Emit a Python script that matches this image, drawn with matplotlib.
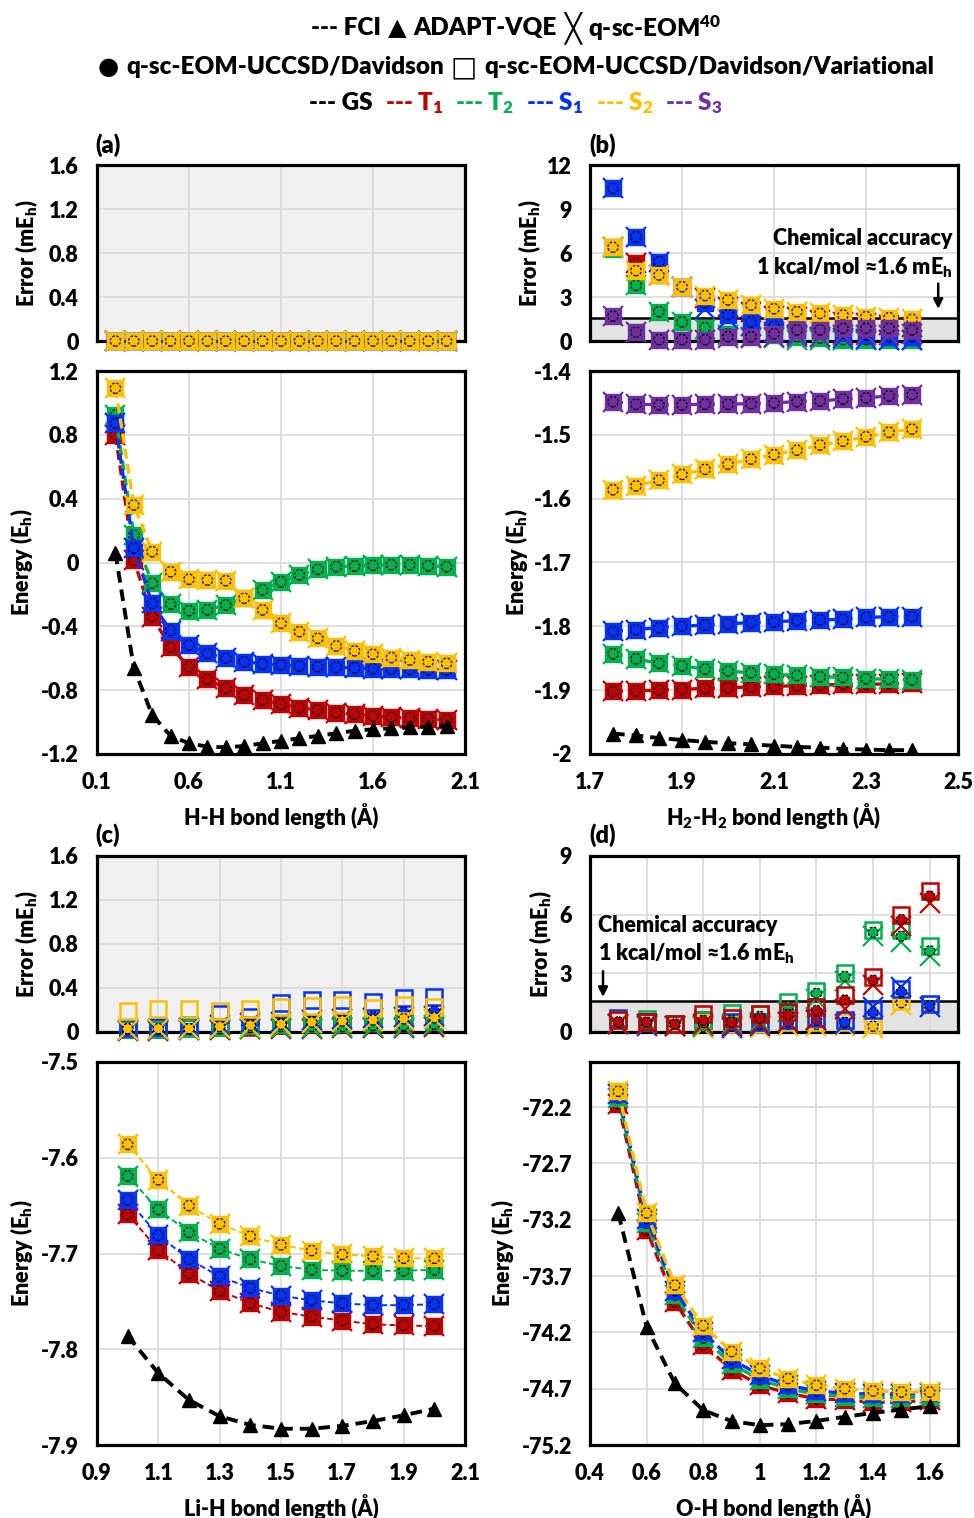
import numpy as np
import matplotlib
matplotlib.use('Agg')
import matplotlib.pyplot as plt

WEIGHT = 'heavy'
plt.rcParams['font.family'] = ['Lato', 'DejaVu Sans']
plt.rcParams['font.weight'] = WEIGHT
plt.rcParams['mathtext.fontset'] = 'custom'
plt.rcParams['mathtext.rm'] = 'Lato:heavy'
plt.rcParams['mathtext.it'] = 'Lato:heavy'
plt.rcParams['mathtext.bf'] = 'Lato:heavy'
plt.rcParams['axes.unicode_minus'] = False

COL = {'GS': 'black', 'T1': '#C00000', 'T2': '#00B050', 'S1': '#0433FF',
       'S2': '#FFC000', 'S3': '#7030A0'}

# ---------------- Panel (a): H2 ----------------
a_x = [0.2, 0.3, 0.4, 0.5, 0.6, 0.7, 0.8, 0.9, 1.0, 1.1, 1.2, 1.3, 1.4, 1.5, 1.6, 1.7, 1.8, 1.9, 2.0]
a_GS = [0.062, -0.660, -0.955, -1.087, -1.133, -1.154, -1.158, -1.150, -1.133, -1.118,
        -1.101, -1.087, -1.070, -1.054, -1.045, -1.039, -1.033, -1.029, -1.024]
a_T1 = [0.799, 0.016, -0.339, -0.532, -0.653, -0.732, -0.788, -0.830, -0.861, -0.888,
        -0.909, -0.924, -0.941, -0.951, -0.962, -0.970, -0.976, -0.980, -0.987]
a_T2 = [0.924, 0.172, -0.130, -0.260, -0.302, -0.297, -0.266, -0.224, -0.172, -0.120,
        -0.078, -0.043, -0.026, -0.022, -0.018, -0.014, -0.014, -0.020, -0.026]
a_S1 = [0.872, 0.089, -0.256, -0.427, -0.517, -0.569, -0.600, -0.621, -0.636, -0.642,
        -0.648, -0.653, -0.657, -0.661, -0.665, -0.667, -0.670, -0.672, -0.674]
a_S2 = [1.092, 0.360, 0.068, -0.058, -0.105, -0.110, -0.114, -0.224, -0.297, -0.381,
        -0.433, -0.475, -0.523, -0.554, -0.575, -0.596, -0.611, -0.621, -0.632]
a_err = [0.0, 0.0, 0.0, 0.0, 0.0, 0.0, 0.0, 0.0, 0.0, 0.0, 0.0, 0.0, 0.0, 0.0, 0.0, 0.0, 0.0, 0.0, 0.0]

# ---------------- Panel (b): H4 ----------------
b_x = [1.75, 1.80, 1.85, 1.90, 1.95, 2.00, 2.05, 2.10, 2.15, 2.20, 2.25, 2.30, 2.35, 2.40]
b_GS = [-1.968, -1.971, -1.975, -1.978, -1.981, -1.983, -1.985, -1.987, -1.989, -1.990,
        -1.992, -1.993, -1.994, -1.994]
b_T1 = [-1.902, -1.901, -1.900, -1.899, -1.897, -1.896, -1.895, -1.894, -1.893, -1.892,
        -1.891, -1.891, -1.890, -1.889]
b_T2 = [-1.843, -1.851, -1.858, -1.862, -1.867, -1.870, -1.873, -1.875, -1.877, -1.879,
        -1.880, -1.882, -1.883, -1.884]
b_S1 = [-1.808, -1.805, -1.802, -1.800, -1.798, -1.796, -1.794, -1.793, -1.791, -1.790,
        -1.789, -1.786, -1.785, -1.785]
b_S2 = [-1.586, -1.580, -1.571, -1.562, -1.554, -1.546, -1.538, -1.531, -1.524, -1.516,
        -1.510, -1.503, -1.496, -1.491]
b_S3 = [-1.448, -1.452, -1.453, -1.453, -1.452, -1.452, -1.451, -1.450, -1.448, -1.447,
        -1.444, -1.442, -1.439, -1.437]
# errors (mEh): Davidson (circle) / Variational (square) / q-sc-EOM40 (cross)
b_dav_T1 = [6.4, 5.3, 4.5, 3.7, 2.9, 2.3, 2.0, 1.7, 1.66, 1.43, 1.32, 1.21, 1.09, 0.98]
b_dav_T2 = [6.3, 3.8, 2.0, 1.3, 0.9, 0.5, 0.5, 0.4, 0.3, 0.2, 0.1, 0.1, 0.1, 0.05]
b_dav_S1 = [10.4, 7.1, 5.4, 3.7, 2.6, 1.8, 1.3, 1.0, 0.9, 0.75, 0.52, 0.41, 0.3, 0.3]
b_dav_S2 = [6.4, 4.8, 4.5, 3.7, 3.1, 2.8, 2.45, 2.2, 2.0, 1.88, 1.77, 1.66, 1.59, 1.48]
b_dav_S3 = [1.7, 0.6, 0.1, 0.1, 0.1, 0.3, 0.3, 0.5, 0.75, 0.75, 0.86, 0.86, 0.86, 0.75]
b_x40_T1 = [6.4, 5.3, 4.5, 3.7, 2.9, 2.3, 2.0, 1.7, 1.66, 1.43, 1.32, 1.21, 1.09, 0.98]
b_x40_T2 = [6.4, 3.8, 2.0, 1.3, 0.8, 0.4, 0.3, 0.2, 0.1, 0.1, 0.05, 0.05, 0.05, 0.05]
b_x40_S1 = [10.4, 7.1, 5.4, 3.7, 2.2, 1.5, 1.0, 0.6, 0.4, 0.3, 0.2, 0.15, 0.1, 0.1]
b_x40_S2 = [6.4, 4.8, 4.5, 3.7, 3.1, 2.8, 2.45, 2.2, 2.0, 1.88, 1.77, 1.66, 1.59, 1.48]
b_x40_S3 = [1.7, 0.6, 0.1, 0.1, 0.1, 0.2, 0.2, 0.3, 0.3, 0.3, 0.4, 0.4, 0.4, 0.5]

# ---------------- Panel (c): LiH ----------------
c_x = [1.0, 1.1, 1.2, 1.3, 1.4, 1.5, 1.6, 1.7, 1.8, 1.9, 2.0]
c_GS = [-7.786, -7.825, -7.853, -7.870, -7.879, -7.883, -7.883, -7.880, -7.875, -7.869, -7.862]
c_T1 = [-7.659, -7.696, -7.721, -7.739, -7.752, -7.761, -7.766, -7.770, -7.774, -7.775, -7.776]
c_T2 = [-7.619, -7.654, -7.678, -7.695, -7.706, -7.713, -7.717, -7.718, -7.718, -7.718, -7.717]
c_S1 = [-7.644, -7.681, -7.706, -7.724, -7.736, -7.744, -7.749, -7.752, -7.754, -7.754, -7.753]
c_S2 = [-7.586, -7.623, -7.650, -7.669, -7.682, -7.691, -7.697, -7.701, -7.703, -7.705, -7.705]
c_dav_T1 = [0.02, 0.02, 0.02, 0.03, 0.03, 0.03, 0.04, 0.04, 0.05, 0.05, 0.05]
c_dav_T2 = [0.02, 0.02, 0.03, 0.03, 0.04, 0.05, 0.05, 0.05, 0.06, 0.06, 0.07]
c_dav_S1 = [0.03, 0.03, 0.03, 0.06, 0.07, 0.08, 0.10, 0.11, 0.14, 0.18, 0.19]
c_dav_S2 = [0.03, 0.03, 0.03, 0.05, 0.06, 0.07, 0.09, 0.10, 0.11, 0.12, 0.13]
c_var_T1 = [0.03, 0.03, 0.04, 0.05, 0.05, 0.06, 0.07, 0.07, 0.08, 0.08, 0.09]
c_var_T2 = [0.03, 0.03, 0.04, 0.05, 0.06, 0.07, 0.08, 0.08, 0.09, 0.10, 0.10]
c_var_S1 = [0.04, 0.05, 0.06, 0.16, 0.14, 0.26, 0.29, 0.29, 0.27, 0.31, 0.32]
c_var_S2 = [0.19, 0.21, 0.21, 0.19, 0.21, 0.23, 0.24, 0.25, 0.22, 0.25, 0.23]
c_x40_T1 = [0.01, 0.01, 0.02, 0.02, 0.03, 0.03, 0.03, 0.04, 0.04, 0.04, 0.05]
c_x40_T2 = [0.02, 0.02, 0.02, 0.03, 0.03, 0.04, 0.04, 0.05, 0.05, 0.05, 0.06]
c_x40_S1 = [0.02, 0.03, 0.04, 0.06, 0.08, 0.09, 0.11, 0.12, 0.13, 0.14, 0.15]
c_x40_S2 = [0.02, 0.03, 0.03, 0.04, 0.05, 0.06, 0.08, 0.09, 0.10, 0.11, 0.12]

# ---------------- Panel (d): H2O ----------------
d_x = [0.5, 0.6, 0.7, 0.8, 0.9, 1.0, 1.1, 1.2, 1.3, 1.4, 1.5, 1.6]
d_GS = [-73.144, -74.151, -74.654, -74.891, -74.988, -75.024, -75.015, -74.986, -74.950,
        -74.915, -74.885, -74.855]
d_T1 = [-72.17, -73.29, -73.93, -74.31, -74.53, -74.67, -74.74, -74.79, -74.80, -74.82, -74.82, -74.80]
d_T2 = [-72.12, -73.23, -73.87, -74.25, -74.48, -74.62, -74.70, -74.75, -74.77, -74.78, -74.78, -74.77]
d_S1 = [-72.08, -73.19, -73.83, -74.20, -74.44, -74.58, -74.67, -74.72, -74.74, -74.75, -74.75, -74.74]
d_S2 = [-72.06, -73.14, -73.78, -74.14, -74.37, -74.52, -74.61, -74.67, -74.70, -74.72, -74.73, -74.73]
d_dav_T1 = [0.5, 0.5, 0.4, 0.6, 0.5, 0.7, 0.9, 1.1, 1.64, 2.65, 5.75, 6.95]
d_dav_T2 = [0.5, 0.5, 0.4, 0.5, 0.6, 0.8, 1.3, 1.98, 2.85, 5.1, 4.9, 4.15]
d_dav_S1 = [0.5, 0.4, 0.4, 0.4, 0.3, 0.4, 0.5, 0.6, 0.5, 1.0, 2.05, 1.35]
d_dav_S2 = [0.5, 0.4, 0.4, 0.3, 0.3, 0.3, 0.4, 0.4, 0.4, 0.3, 1.5, 1.35]
d_var_T1 = [0.6, 0.5, 0.4, 0.9, 0.7, 0.9, 1.0, 1.3, 1.9, 2.8, 6.0, 7.2]
d_var_T2 = [0.6, 0.65, 0.4, 0.6, 0.95, 0.9, 1.55, 2.1, 3.0, 5.2, 5.2, 4.4]
d_var_S1 = [0.7, 0.5, 0.4, 0.6, 0.5, 0.5, 0.6, 0.7, 0.6, 1.1, 2.2, 1.45]
d_var_S2 = [0.6, 0.5, 0.4, 0.5, 0.4, 0.4, 0.5, 0.5, 0.5, 0.4, 1.6, 1.45]
d_x40_T1 = [0.4, 0.4, 0.3, 0.4, 0.3, 0.4, 0.5, 0.6, 1.2, 2.4, 5.4, 6.6]
d_x40_T2 = [0.4, 0.4, 0.3, 0.3, 0.4, 0.5, 1.0, 1.7, 2.6, 4.9, 4.6, 3.9]
d_x40_S1 = [0.4, 0.3, 0.3, 0.3, 0.2, 0.3, 0.5, 0.6, 0.4, 1.3, 2.3, 1.3]
d_x40_S2 = [0.4, 0.3, 0.3, 0.2, 0.2, 0.2, 0.3, 0.3, 0.3, 0.2, 1.4, 1.3]

W, H = 974, 1518
fig = plt.figure(figsize=(W / 100, H / 100), dpi=100)

def ax_at(x0, y_top, y_bot, w=368):
    return fig.add_axes([x0 / W, 1 - y_bot / H, w / W, (y_bot - y_top) / H])

TICK_FS = 15.5
LAB_FS = 15.5
GRID_C = '#d9d9d9'

def style(ax, xlim, xticks, ylim, yticks, show_x, ylabels=None):
    ax.set_xlim(*xlim)
    ax.set_ylim(*ylim)
    ax.set_xticks(xticks)
    ax.set_yticks(yticks)
    if ylabels is not None:
        ax.set_yticklabels(ylabels)
    ax.grid(True, color=GRID_C, lw=1.2, zorder=0)
    ax.set_axisbelow(True)
    for s in ax.spines.values():
        s.set_linewidth(2.3)
        s.set_color('black')
        s.set_zorder(50)
    ax.tick_params(length=0, labelsize=TICK_FS, pad=13)
    if not show_x:
        ax.tick_params(axis='x', labelbottom=False)
    for lab in ax.get_xticklabels() + ax.get_yticklabels():
        lab.set_fontweight(WEIGHT)

def plot_state(ax, x, y, c, z, sq_fill=True, y_var=None, y_x40=None, lines=True, lw=2.4,
               clip=True):
    if y_var is None:
        y_var = y
    if y_x40 is None:
        y_x40 = y
    if lines:
        ax.plot(x, y, color=c, ls='--', lw=lw, dashes=(3, 1.6), zorder=z)
    ax.plot(x, y_x40, ls='none', marker='x', ms=15, mew=1.6, color=c, zorder=z + 0.1,
            clip_on=clip)
    if sq_fill:
        ax.plot(x, y_var, ls='none', marker='s', ms=11.5, mfc=c, mec=c, mew=1.0,
                zorder=z + 0.2, clip_on=clip)
    else:
        ax.plot(x, y_var, ls='none', marker='s', ms=11.5, mfc='none', mec=c, mew=1.8,
                zorder=z + 0.2, clip_on=clip)
    ax.scatter(x, y, s=55, c=c, edgecolors='black', linewidths=0.9,
               linestyle=(0, (2.0, 1.4)), zorder=z + 0.3, clip_on=clip)

def plot_gs(ax, x, y, z=20):
    ax.plot(x, y, color='black', ls='--', lw=2.8, dashes=(3, 1.8), marker='^', ms=10,
            mfc='black', mec='black', zorder=z)

def err_bg(ax, full, x0, x1):
    if full:
        ax.set_facecolor('#f0f0f0')
    else:
        ax.fill_between([x0, x1], 0, 1.6, color='#e3e3e3', zorder=0.5)
        ax.axhline(1.6, color='black', lw=1.8, zorder=1)

def ylab(ax, xfrac, txt):
    ax.text(xfrac, 0.5, txt, transform=ax.transAxes, rotation=90, ha='center', va='center',
            fontsize=LAB_FS, fontweight=WEIGHT)

def xlab(ax, yfrac, txt):
    ax.text(0.5, yfrac, txt, transform=ax.transAxes, ha='center', va='center',
            fontsize=LAB_FS, fontweight=WEIGHT)

# ---------- Panel (a) ----------
axa_e = ax_at(97, 165, 341)
axa = ax_at(97, 371, 754)
err_bg(axa_e, True, 0.1, 2.1)
style(axa_e, (0.1, 2.1), [0.1, 0.6, 1.1, 1.6, 2.1], (0, 1.6), [0, 0.4, 0.8, 1.2, 1.6], False,
      ['0', '0.4', '0.8', '1.2', '1.6'])
for i, (k, e) in enumerate([('T1', a_err), ('T2', a_err), ('S1', a_err), ('S2', a_err)]):
    plot_state(axa_e, a_x, e, COL[k], 60 + i, lines=False, clip=False)
style(axa, (0.1, 2.1), [0.1, 0.6, 1.1, 1.6, 2.1], (-1.2, 1.2),
      [-1.2, -0.8, -0.4, 0, 0.4, 0.8, 1.2], True,
      ['-1.2', '-0.8', '-0.4', '0', '0.4', '0.8', '1.2'])
axa.set_xticklabels(['0.1', '0.6', '1.1', '1.6', '2.1'])
plot_gs(axa, a_x, a_GS)
for i, (k, e) in enumerate([('T1', a_T1), ('T2', a_T2), ('S1', a_S1), ('S2', a_S2)]):
    plot_state(axa, a_x, e, COL[k], 10 + i)
ylab(axa_e, -0.19, r'Error (mE$_\mathrm{h}$)')
ylab(axa, -0.205, r'Energy (E$_\mathrm{h}$)')
xlab(axa, -0.162, 'H-H bond length (Å)')

# ---------- Panel (b) ----------
axb_e = ax_at(590, 165, 341)
axb = ax_at(590, 371, 754)
err_bg(axb_e, False, 1.7, 2.5)
style(axb_e, (1.7, 2.5), [1.7, 1.9, 2.1, 2.3, 2.5], (0, 12), [0, 3, 6, 9, 12], False)
b_err_list = [('T1', b_dav_T1, b_x40_T1), ('T2', b_dav_T2, b_x40_T2), ('S1', b_dav_S1, b_x40_S1),
              ('S2', b_dav_S2, b_x40_S2), ('S3', b_dav_S3, b_x40_S3)]
for i, (k, e, ex) in enumerate(b_err_list):
    plot_state(axb_e, b_x, e, COL[k], 60 + i, y_x40=ex, lines=False, clip=False)
axb_e.annotate('', xy=(2.457, 2.0), xytext=(2.457, 4.1),
               arrowprops=dict(arrowstyle='-|>', color='black', lw=1.8, mutation_scale=14),
               zorder=80)
axb_e.text(2.487, 7.0, 'Chemical accuracy', ha='right', va='center', fontsize=15.5,
           fontweight=WEIGHT, zorder=80)
axb_e.text(2.487, 5.0, r'1 kcal/mol ≈1.6 mE$_\mathrm{h}$', ha='right', va='center',
           fontsize=15.5, fontweight=WEIGHT, zorder=80)
style(axb, (1.7, 2.5), [1.7, 1.9, 2.1, 2.3, 2.5], (-2.0, -1.4),
      [-2.0, -1.9, -1.8, -1.7, -1.6, -1.5, -1.4], True,
      ['-2', '-1.9', '-1.8', '-1.7', '-1.6', '-1.5', '-1.4'])
plot_gs(axb, b_x, b_GS)
for i, (k, e) in enumerate([('T1', b_T1), ('T2', b_T2), ('S1', b_S1), ('S2', b_S2), ('S3', b_S3)]):
    plot_state(axb, b_x, e, COL[k], 10 + i)
ylab(axb_e, -0.165, r'Error (mE$_\mathrm{h}$)')
ylab(axb, -0.20, r'Energy (E$_\mathrm{h}$)')
xlab(axb, -0.162, r'H$_2$-H$_2$ bond length (Å)')

# ---------- Panel (c) ----------
axc_e = ax_at(97, 856, 1032)
axc = ax_at(97, 1062, 1445)
err_bg(axc_e, True, 0.9, 2.1)
style(axc_e, (0.9, 2.1), [0.9, 1.1, 1.3, 1.5, 1.7, 1.9, 2.1], (0, 1.6), [0, 0.4, 0.8, 1.2, 1.6],
      False, ['0', '0.4', '0.8', '1.2', '1.6'])
c_err_list = [('T1', c_dav_T1, c_var_T1, c_x40_T1), ('T2', c_dav_T2, c_var_T2, c_x40_T2),
              ('S1', c_dav_S1, c_var_S1, c_x40_S1), ('S2', c_dav_S2, c_var_S2, c_x40_S2)]
for i, (k, e, ev, ex) in enumerate(c_err_list):
    plot_state(axc_e, c_x, e, COL[k], 60 + i, sq_fill=False, y_var=ev, y_x40=ex, lines=False,
               clip=False)
style(axc, (0.9, 2.1), [0.9, 1.1, 1.3, 1.5, 1.7, 1.9, 2.1], (-7.9, -7.5),
      [-7.9, -7.8, -7.7, -7.6, -7.5], True,
      ['-7.9', '-7.8', '-7.7', '-7.6', '-7.5'])
plot_gs(axc, c_x, c_GS)
for i, (k, e) in enumerate([('T1', c_T1), ('T2', c_T2), ('S1', c_S1), ('S2', c_S2)]):
    plot_state(axc, c_x, e, COL[k], 10 + i, lw=1.4)
ylab(axc_e, -0.19, r'Error (mE$_\mathrm{h}$)')
ylab(axc, -0.205, r'Energy (E$_\mathrm{h}$)')
xlab(axc, -0.162, 'Li-H bond length (Å)')

# ---------- Panel (d) ----------
axd_e = ax_at(590, 856, 1032)
axd = ax_at(590, 1062, 1445)
err_bg(axd_e, False, 0.4, 1.7)
style(axd_e, (0.4, 1.7), [0.4, 0.6, 0.8, 1.0, 1.2, 1.4, 1.6], (0, 9), [0, 3, 6, 9], False)
d_err_list = [('S2', d_dav_S2, d_var_S2, d_x40_S2), ('S1', d_dav_S1, d_var_S1, d_x40_S1),
              ('T2', d_dav_T2, d_var_T2, d_x40_T2), ('T1', d_dav_T1, d_var_T1, d_x40_T1)]
for i, (k, e, ev, ex) in enumerate(d_err_list):
    plot_state(axd_e, d_x, e, COL[k], 60 + i, sq_fill=False, y_var=ev, y_x40=ex, lines=False,
               clip=False)
axd_e.annotate('', xy=(0.446, 1.65), xytext=(0.446, 3.25),
               arrowprops=dict(arrowstyle='-|>', color='black', lw=1.8, mutation_scale=14),
               zorder=80)
axd_e.text(0.427, 5.45, 'Chemical accuracy', ha='left', va='center', fontsize=15.5,
           fontweight=WEIGHT, zorder=80)
axd_e.text(0.427, 4.0, r'1 kcal/mol ≈1.6 mE$_\mathrm{h}$', ha='left', va='center',
           fontsize=15.5, fontweight=WEIGHT, zorder=80)
style(axd, (0.4, 1.7), [0.4, 0.6, 0.8, 1.0, 1.2, 1.4, 1.6], (-75.2, -71.8),
      [-75.2, -74.7, -74.2, -73.7, -73.2, -72.7, -72.2], True,
      ['-75.2', '-74.7', '-74.2', '-73.7', '-73.2', '-72.7', '-72.2'])
axd.set_xticklabels(['0.4', '0.6', '0.8', '1', '1.2', '1.4', '1.6'])
plot_gs(axd, d_x, d_GS)
for i, (k, e) in enumerate([('T1', d_T1), ('T2', d_T2), ('S1', d_S1), ('S2', d_S2)]):
    plot_state(axd, d_x, e, COL[k], 10 + i)
ylab(axd_e, -0.135, r'Error (mE$_\mathrm{h}$)')
ylab(axd, -0.237, r'Energy (E$_\mathrm{h}$)')
xlab(axd, -0.162, 'O-H bond length (Å)')

# panel tags
for tag, px, py in [('(a)', 95, 145), ('(b)', 589, 145), ('(c)', 95, 835), ('(d)', 589, 835)]:
    fig.text(px / W, 1 - py / H, tag, ha='left', va='center', fontsize=17, fontweight=WEIGHT)

# ---------- legend rows ----------
renderer = fig.canvas.get_renderer()
LEG_FS = 17.5

def text_row(py, pieces, cx=516, gap=10):
    objs = []
    widths = []
    for item in pieces:
        s, c = item[0], item[1]
        kw = dict(color=c, fontsize=LEG_FS, fontweight=WEIGHT, ha='left', va='center')
        if len(item) > 2:
            kw.update(item[2])
        t = fig.text(0, 1 - py / H, s, **kw)
        widths.append(t.get_window_extent(renderer).width)
        objs.append(t)
    total = sum(widths) + gap * (len(pieces) - 1)
    x0 = cx - total / 2
    for t, w in zip(objs, widths):
        t.set_x(x0 / W)
        x0 += w + gap

SYM = {'family': 'DejaVu Sans', 'fontweight': 'normal'}
text_row(28, [('--- FCI', 'black'), ('▲', 'black', SYM), ('ADAPT-VQE', 'black'),
              ('╳', 'black', dict(SYM, fontsize=20)), (r'q-sc-EOM$^{40}$', 'black')], gap=7)
text_row(67, [('●', 'black', SYM), ('q-sc-EOM-UCCSD/Davidson', 'black'),
              ('□', 'black', dict(SYM, fontsize=20)),
              ('q-sc-EOM-UCCSD/Davidson/Variational', 'black')], gap=7)
text_row(103, [('--- GS', 'black'), (r'--- T$_1$', COL['T1']), (r'--- T$_2$', COL['T2']),
               (r'--- S$_1$', COL['S1']), (r'--- S$_2$', COL['S2']), (r'--- S$_3$', COL['S3'])],
         gap=12)

fig.savefig('out.png', dpi=100)
